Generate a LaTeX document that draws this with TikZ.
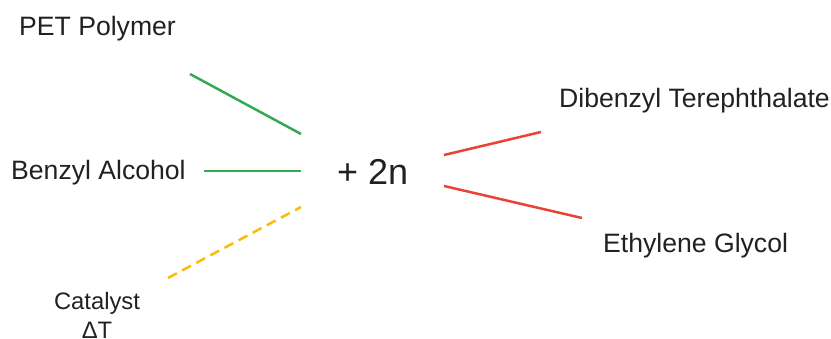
\documentclass[tikz,border=0pt]{standalone}
\usepackage{fontspec}
\setmainfont{Liberation Sans}
\definecolor{txt}{HTML}{202124}
\definecolor{ggreen}{HTML}{34A853}
\definecolor{gred}{HTML}{EA4335}
\definecolor{gyellow}{HTML}{FBBC04}
\begin{document}
\begin{tikzpicture}[x=1pt,y=-1pt,
  lbl/.style={inner sep=0pt,anchor=base west,text=txt,font=\fontsize{26.6}{31}\selectfont},
  conn/.style={line width=2.5pt},
  ingreen/.style={conn,ggreen},
  outred/.style={conn,gred},
  catline/.style={conn,gyellow,dash pattern=on 10pt off 6pt}]
\useasboundingbox (0,0) rectangle (831,339);
\node[lbl] (pet) at (19,36) {PET Polymer};
\node[lbl] (ba) at (11,180) {Benzyl Alcohol};
\node[lbl,font=\fontsize{36}{42}\selectfont] (plus) at (337,185) {+ 2n};
\node[lbl] (dbt) at (559,108) {Dibenzyl Terephthalate};
\node[lbl] (eg) at (603,253) {Ethylene Glycol};
\node[inner sep=0pt,anchor=base,text=txt,align=center,font=\fontsize{23.8}{29}\selectfont] (cat) at (97,339) {Catalyst\\ΔT};
\coordinate (p1) at (190,74);
\coordinate (p2) at (301,134);
\coordinate (b1) at (204,171);
\coordinate (b2) at (301,171);
\coordinate (c1) at (168,278);
\coordinate (c2) at (301,207);
\coordinate (d1) at (444,155);
\coordinate (d2) at (541,132);
\coordinate (e1) at (444,186);
\coordinate (e2) at (582,218);
\draw[ingreen] (p1) -- (p2);
\draw[ingreen] (b1) -- (b2);
\draw[catline] (c1) -- (c2);
\draw[outred] (d1) -- (d2);
\draw[outred] (e1) -- (e2);
\end{tikzpicture}
\end{document}
